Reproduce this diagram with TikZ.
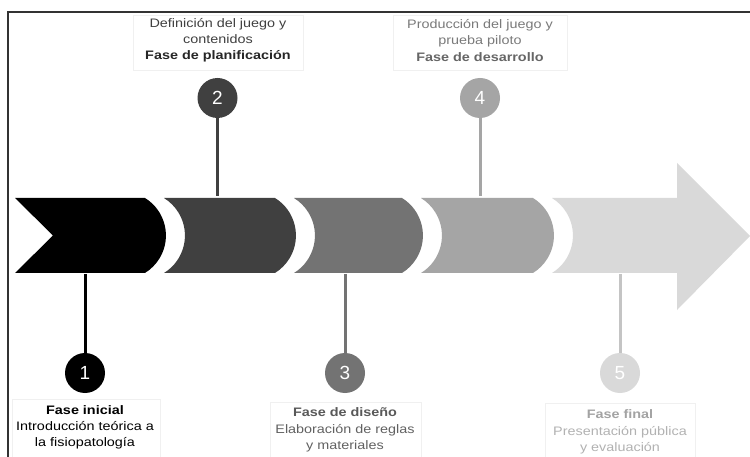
\documentclass[tikz,border=0pt]{standalone}
\usepackage{fontspec}
\setmainfont{Liberation Sans}
\newfontfamily\stretchfont[FakeStretch=1.17]{Liberation Sans}
\definecolor{cA}{HTML}{000000}
\definecolor{cB}{HTML}{404040}
\definecolor{cC}{HTML}{737373}
\definecolor{cD}{HTML}{A5A5A5}
\definecolor{cE}{HTML}{D9D9D9}
\definecolor{stemE}{HTML}{C4C4C4}
\definecolor{boxc}{HTML}{F0F0F0}
\definecolor{framec}{HTML}{333333}
\begin{document}
\begin{tikzpicture}[x=1pt,y=-1pt,
  stem/.style={line width=3pt},
  num/.style={circle,minimum size=40pt,inner sep=0pt,text=white,font=\fontsize{19}{19}\selectfont},
  lbl/.style={align=center,font=\stretchfont\fontsize{12.3}{16.2}\selectfont},
  lblbox/.style={draw=boxc,line width=0.8pt}]
\useasboundingbox (0,0) rectangle (750,457);
\fill[white] (0,0) rectangle (750,457);
% frame
\draw[framec,line width=2pt] (7.5,458) -- (7.5,12) -- (751,12);
% band segments
\fill[cA] (15,198) -- (145,198) arc[start angle=-58.4,end angle=58.4,radius=44] -- (15,273) -- (53,235.5) -- cycle;
\fill[cB] (164,198) -- (275,198) arc[start angle=-58.4,end angle=58.4,radius=44] -- (164,273) arc[start angle=58.4,end angle=-58.4,radius=44] -- cycle;
\fill[cC] (294,198) -- (402,198) arc[start angle=-58.4,end angle=58.4,radius=44] -- (294,273) arc[start angle=58.4,end angle=-58.4,radius=44] -- cycle;
\fill[cD] (421,198) -- (533,198) arc[start angle=-58.4,end angle=58.4,radius=44] -- (421,273) arc[start angle=58.4,end angle=-58.4,radius=44] -- cycle;
\fill[cE] (552,198) -- (677,198) -- (677,163) -- (750,236) -- (677,310) -- (677,273) -- (552,273) arc[start angle=58.4,end angle=-58.4,radius=44] -- cycle;
% circles
\node[num,fill=cA] (n1) at (85,373) {1};
\node[num,fill=cB] (n2) at (217.5,98) {2};
\node[num,fill=cC] (n3) at (345,373) {3};
\node[num,fill=cD] (n4) at (480,98) {4};
\node[num,fill=cE] (n5) at (620,373) {5};
% stems
\coordinate (b1) at (85,274);
\coordinate (b2) at (217.5,196);
\coordinate (b3) at (345,274);
\coordinate (b4) at (480,196);
\coordinate (b5) at (620,274);
\draw[stem,cA] (b1) -- (n1);
\draw[stem,cB] (n2) -- (b2);
\draw[stem,cC] (b3) -- (n3);
\draw[stem,cD] (n4) -- (b4);
\draw[stem,stemE] (b5) -- (n5);
% label boxes
\draw[lblbox] (12,399) rectangle (160,460);
\draw[lblbox] (270,402) rectangle (421,460);
\draw[lblbox] (545,403) rectangle (695,460);
\draw[lblbox] (133,15) rectangle (303,70);
\draw[lblbox] (393,15) rectangle (567,70);
% labels
\node[lbl,text=black] (t1) at (85,427.5) {\textbf{Fase inicial}\\Introducción teórica a\\la fisiopatología};
\node[lbl,text=black!62] (t3) at (345,430) {\textbf{\color{black!65}Fase de diseño}\\Elaboración de reglas\\y materiales};
\node[lbl,text=black!30] (t5) at (620,432) {\textbf{\color{black!36}Fase final}\\Presentación pública\\y evaluación};
\node[lbl,text=black!75] (t2) at (218,40.5) {Definición del juego y\\contenidos\\\textbf{\color{black!85}Fase de planificación}};
\node[lbl,text=black!52] (t4) at (480,40.5) {Producción del juego y\\prueba piloto\\\textbf{\color{black!60}Fase de desarrollo}};
\end{tikzpicture}
\end{document}
